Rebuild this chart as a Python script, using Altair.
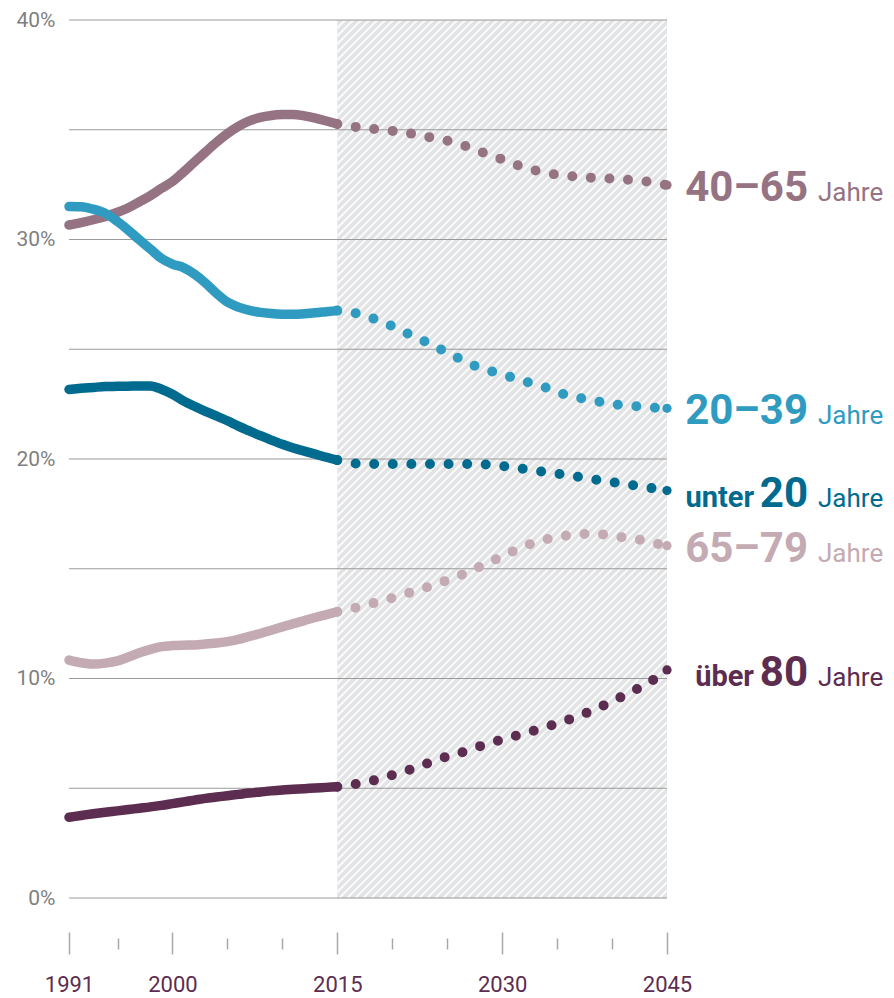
import altair as alt
import numpy as np
import pandas as pd

# ---------------- data ----------------
years_hist = list(range(1991, 2016))
years_proj = list(range(2015, 2046))

groups = ["40–65", "20–39", "unter 20", "65–79", "über 80"]
colors = ["#957382", "#2f9bc0", "#006b8f", "#c4aab2", "#5c2d50"]

hist_40_65 = [30.66, 30.77, 30.90, 31.05, 31.24, 31.45, 31.72, 32.00, 32.33, 32.64,
              33.07, 33.53, 33.98, 34.42, 34.82, 35.15, 35.40, 35.56, 35.65, 35.69,
              35.70, 35.63, 35.53, 35.40, 35.26]
hist_20_39 = [31.50, 31.49, 31.38, 31.19, 30.82, 30.42, 29.98, 29.56, 29.14, 28.88,
              28.72, 28.42, 28.02, 27.55, 27.15, 26.92, 26.77, 26.68, 26.63, 26.60,
              26.59, 26.62, 26.66, 26.71, 26.76]
hist_u20 = [23.17, 23.22, 23.26, 23.30, 23.31, 23.32, 23.33, 23.33, 23.18, 22.95,
            22.65, 22.40, 22.17, 21.96, 21.74, 21.50, 21.28, 21.06, 20.86, 20.67,
            20.50, 20.36, 20.22, 20.08, 19.95]
hist_65_79 = [10.84, 10.72, 10.66, 10.70, 10.80, 10.98, 11.17, 11.33, 11.45, 11.50,
              11.52, 11.53, 11.57, 11.62, 11.68, 11.78, 11.92, 12.05, 12.20, 12.35,
              12.50, 12.64, 12.78, 12.91, 13.04]
hist_80 = [3.68, 3.76, 3.84, 3.91, 3.97, 4.03, 4.09, 4.15, 4.22, 4.30,
           4.38, 4.46, 4.54, 4.60, 4.66, 4.72, 4.78, 4.83, 4.88, 4.92,
           4.95, 4.98, 5.01, 5.04, 5.07]

proj_40_65 = [35.26, 35.20, 35.10, 35.05, 35.00, 34.95, 34.88, 34.80, 34.70, 34.60,
              34.50, 34.35, 34.20, 34.00, 33.85, 33.65, 33.45, 33.30, 33.15, 33.05,
              32.95, 32.90, 32.85, 32.82, 32.80, 32.77, 32.74, 32.70, 32.65, 32.57,
              32.48]
proj_20_39 = [26.76, 26.72, 26.60, 26.45, 26.25, 26.05, 25.80, 25.60, 25.35, 25.10,
              24.85, 24.60, 24.35, 24.15, 24.00, 23.85, 23.70, 23.55, 23.40, 23.25,
              23.05, 22.90, 22.79, 22.68, 22.60, 22.51, 22.45, 22.41, 22.37, 22.33,
              22.31]
proj_u20 = [19.95, 19.85, 19.78, 19.77, 19.77, 19.77, 19.77, 19.77, 19.77, 19.77,
            19.77, 19.77, 19.77, 19.76, 19.73, 19.68, 19.62, 19.55, 19.47, 19.40,
            19.33, 19.25, 19.18, 19.10, 19.02, 18.95, 18.88, 18.80, 18.72, 18.64,
            18.56]
proj_65_79 = [13.04, 13.15, 13.27, 13.40, 13.52, 13.67, 13.82, 13.97, 14.13, 14.30,
              14.48, 14.66, 14.88, 15.10, 15.33, 15.56, 15.80, 16.02, 16.20, 16.34,
              16.45, 16.52, 16.57, 16.59, 16.57, 16.50, 16.43, 16.37, 16.27, 16.15,
              16.05]
proj_80 = [5.07, 5.14, 5.22, 5.32, 5.45, 5.60, 5.75, 5.92, 6.10, 6.27,
           6.45, 6.58, 6.75, 6.92, 7.07, 7.22, 7.36, 7.50, 7.64, 7.79,
           7.95, 8.12, 8.30, 8.50, 8.72, 8.96, 9.20, 9.45, 9.72, 10.02,
           10.39]

label_num = ["40–65", "20–39", "20", "65–79", "80"]
label_pre = ["", "", "unter", "", "über"]
label_unit = "Jahre"

major_ticks = [1991, 2000, 2015, 2030, 2045]
minor_ticks = [1995, 2005, 2010, 2020, 2025, 2035, 2040]
y_label_values = [0, 10, 20, 30, 40]
grid_values = [0, 5, 10, 15, 20, 25, 30, 35, 40]
proj_start, proj_end = 2015, 2045
y_min, y_max = 0, 40

# ---------------- tables ----------------
hist_series = [hist_40_65, hist_20_39, hist_u20, hist_65_79, hist_80]
proj_series = [proj_40_65, proj_20_39, proj_u20, proj_65_79, proj_80]

hist_df = pd.DataFrame([
    {"group": g, "year": y, "value": v}
    for g, s in zip(groups, hist_series) for y, v in zip(years_hist, s)
])
proj_df = pd.DataFrame([
    {"group": g, "year": y, "value": v}
    for g, s in zip(groups, proj_series) for y, v in zip(years_proj, s)
])
end_df = pd.DataFrame({
    "group": groups,
    "year": [years_proj[-1]] * len(groups),
    "value": [s[-1] for s in proj_series],
    "num": label_num,
    "pre": label_pre,
    "unit": [label_unit] * len(groups),
})
hatch_df = pd.DataFrame({"x": [proj_start], "x2": [proj_end], "y": [y_min], "y2": [y_max]})
grid_df = pd.DataFrame({"v": grid_values, "xa": [years_hist[0]] * len(grid_values),
                        "xb": [proj_end] * len(grid_values)})

# ---------------- geometry / styles ----------------
W, H = 598, 878
x_scale = alt.Scale(domain=[1991, 1995, 2045], range=[0, 48.5, W], nice=False, zero=False)
y_scale = alt.Scale(domain=[y_min, y_max], nice=False, zero=True)
color_scale = alt.Scale(domain=groups, range=colors)

# decorative 45° hatching of the projection area (in data units)
px_per_year = (W - 48.5) / 50.0
px_per_pct = H / (y_max - y_min)
slope = px_per_year / px_per_pct
step = 8.0 / px_per_year
span = (y_max - y_min) / slope
rows = []
s = proj_start - span
while s < proj_end:
    t1 = max(proj_start, s)
    t2 = min(proj_end, s + span)
    if t2 > t1:
        rows.append({"t1": t1, "t2": t2, "v1": slope * (t1 - s), "v2": slope * (t2 - s)})
    s += step
stripe_df = pd.DataFrame(rows)

FONT = "Roboto"

y_axis = alt.Axis(values=y_label_values, labelExpr="datum.value + '%'", orient="left",
                  grid=False, ticks=False, domain=False, title=None,
                  labelPadding=14, labelFontSize=21, labelColor="#7f7f7f",
                  labelFont=FONT)
major_axis = alt.Axis(values=major_ticks, format="d", orient="bottom", offset=34,
                      tickSize=22, tickColor="#a8a8a8", tickWidth=1.5, domain=False,
                      grid=False, title=None, labelPadding=20, labelFontSize=22,
                      labelColor="#5c2d50", labelFont=FONT, labelFlush=False,
                      labelOverlap=False)
minor_axis = alt.Axis(values=minor_ticks, orient="bottom", offset=40, tickSize=11,
                      labels=False, domain=False, grid=False, title=None,
                      tickColor="#a8a8a8", tickWidth=1.5)


def Y(field):
    return alt.Y(field, scale=y_scale, axis=y_axis)


hatch = alt.Chart(hatch_df).mark_rect(color="#e2e3e5").encode(
    x=alt.X("x:Q", scale=x_scale, axis=minor_axis),
    x2="x2:Q",
    y=Y("y:Q"),
    y2="y2:Q",
)

stripes = alt.Chart(stripe_df).mark_rule(color="white", strokeWidth=2, opacity=0.85).encode(
    x=alt.X("t1:Q", scale=x_scale, axis=None),
    x2="t2:Q",
    y=Y("v1:Q"),
    y2="v2:Q",
)

grid = alt.Chart(grid_df).mark_rule(color="#9a9a9a", strokeWidth=1).encode(
    x=alt.X("xa:Q", scale=x_scale, axis=None),
    x2="xb:Q",
    y=Y("v:Q"),
)

solid = alt.Chart(hist_df).mark_line(strokeWidth=9.5, strokeCap="round",
                                     interpolate="monotone").encode(
    x=alt.X("year:Q", scale=x_scale, axis=major_axis),
    y=Y("value:Q"),
    color=alt.Color("group:N", scale=color_scale, legend=None),
)

dotted = alt.Chart(proj_df).mark_line(strokeWidth=10, strokeCap="round",
                                      strokeDash=[0, 18.6],
                                      interpolate="monotone").encode(
    x=alt.X("year:Q", scale=x_scale, axis=None),
    y=Y("value:Q"),
    color=alt.Color("group:N", scale=color_scale, legend=None),
)

ends = alt.Chart(end_df).mark_circle(size=85, opacity=1).encode(
    x=alt.X("year:Q", scale=x_scale, axis=None),
    y=Y("value:Q"),
    color=alt.Color("group:N", scale=color_scale, legend=None),
)


def text_layer(field, **kw):
    return alt.Chart(end_df).mark_text(font=FONT, baseline="alphabetic", dy=16, **kw).encode(
        x=alt.X("year:Q", scale=x_scale, axis=None),
        y=Y("value:Q"),
        text=f"{field}:N",
        color=alt.Color("group:N", scale=color_scale, legend=None),
    )


t_num = text_layer("num", align="right", dx=141, fontSize=42, fontWeight="bold")
t_pre = text_layer("pre", align="right", dx=87, fontSize=29, fontWeight="bold")
t_unit = text_layer("unit", align="left", dx=151, fontSize=26, fontWeight="normal")

chart = (
    alt.layer(hatch, stripes, grid, solid, dotted, ends, t_num, t_pre, t_unit)
    .resolve_axis(x="independent")
    .properties(
        width=W, height=H,
        padding={"left": 61, "top": 12, "right": 216, "bottom": 102},
        autosize=alt.AutoSizeParams(type="none"),
        background="white",
    )
    .configure_view(stroke=None)
)

chart.save("out.html", embed_options={"renderer": "svg", "actions": False})
